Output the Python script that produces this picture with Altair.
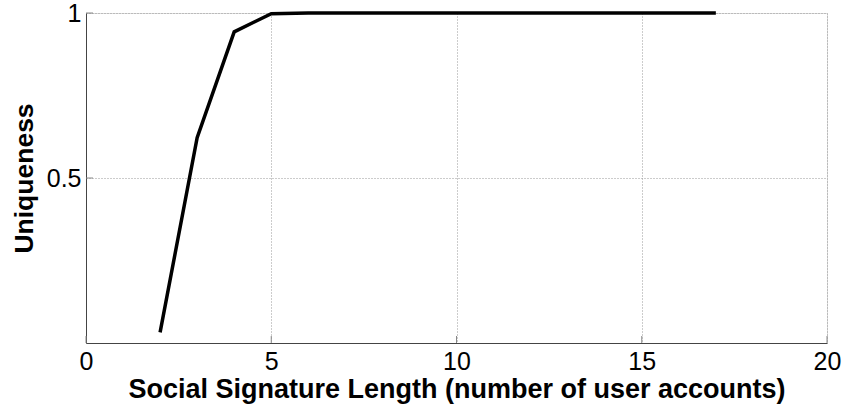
import altair as alt
import pandas as pd

signature_length = [2, 3, 4, 5, 6, 7, 8, 9, 10, 11, 12, 13, 14, 15, 16, 17]
uniqueness = [0.032, 0.622, 0.943, 0.998, 1.0, 1.0, 1.0, 1.0, 1.0, 1.0, 1.0, 1.0, 1.0, 1.0, 1.0, 1.0]
x_ticks = [0, 5, 10, 15, 20]
y_ticks = [0.5, 1]

df = pd.DataFrame({"len": signature_length, "u": uniqueness})
W, H = 741, 330
FONT = "Liberation Sans"

xscale = alt.Scale(domain=[0, 20], nice=False, zero=False)
yscale = alt.Scale(domain=[0, 1], nice=False, zero=False)

xaxis = alt.Axis(values=x_ticks, grid=True, gridDash=[1, 2], gridColor="#999999",
                 ticks=False, domainColor="#444444", labelFont=FONT, labelFontSize=25,
                 labelColor="black", labelPadding=6, format="d", labelFlush=False,
                 title="Social Signature Length (number of user accounts)",
                 titleFont=FONT, titleFontSize=27, titleFontWeight="bold",
                 titleColor="black", titlePadding=2)
yaxis = alt.Axis(values=y_ticks, grid=True, gridDash=[1, 2], gridColor="#999999",
                 ticks=False, domainColor="#444444", labelFont=FONT, labelFontSize=25,
                 labelColor="black", labelPadding=5, labelFlush=False,
                 labelExpr="datum.value == 1 ? '1' : format(datum.value, '.1f')",
                 title="Uniqueness", titleFont=FONT, titleFontSize=26.5,
                 titleFontWeight="bold", titleColor="black", titlePadding=8)

line = alt.Chart(df).mark_line(color="black", strokeWidth=3.5).encode(
    x=alt.X("len:Q", scale=xscale, axis=xaxis),
    y=alt.Y("u:Q", scale=yscale, axis=yaxis),
)

xt = alt.Chart(pd.DataFrame({"len": x_ticks})).mark_rule(color="#888888", strokeWidth=1).encode(
    x=alt.X("len:Q", scale=xscale, axis=xaxis), y=alt.value(H), y2=alt.value(H - 7))
yt = alt.Chart(pd.DataFrame({"u": y_ticks})).mark_rule(color="#888888", strokeWidth=1).encode(
    y=alt.Y("u:Q", scale=yscale, axis=yaxis), x=alt.value(0), x2=alt.value(7))

chart = alt.layer(line, xt, yt).properties(
    width=W, height=H,
    padding={"left": 86, "top": 13, "right": 19, "bottom": 63},
    autosize=alt.AutoSizeParams(type="none"),
).configure_view(stroke=None).configure(background="white")

chart.save("out.html", embed_options={"renderer": "svg", "actions": False})
